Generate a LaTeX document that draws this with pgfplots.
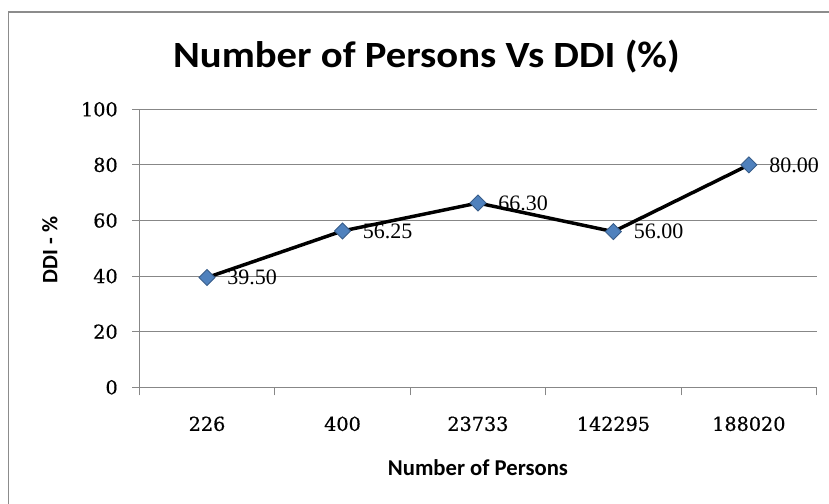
\documentclass[border=0pt]{standalone}
\usepackage{pgfplots}
\pgfplotsset{compat=1.18}
\usepackage{graphicx}
\usepackage{fontspec}
\setmainfont{Liberation Serif}
\newfontfamily\calibri{Carlito}
\newfontfamily\tickserif[FakeBold=0.6]{DejaVu Serif}

\definecolor{gridgray}{HTML}{878787}
\definecolor{framegray}{HTML}{8C8C8C}
\definecolor{markfill}{HTML}{4F81BD}
\definecolor{markedge}{HTML}{385D8A}

\begin{document}
\begin{tikzpicture}
\begin{axis}[
  at={(0,0)}, anchor=south west,
  scale only axis,
  width=508pt, height=208.5pt,
  xmin=-0.5, xmax=4.5,
  ymin=0, ymax=100,
  xtick={0,1,2,3,4},
  xticklabels={226,400,23733,142295,188020},
  minor xtick={-0.5,0.5,1.5,2.5,3.5,4.5},
  ytick={0,20,40,60,80,100},
  major x tick style={draw=none},
  major tick length=5.25pt,
  minor tick length=6pt,
  tick align=outside,
  xtick pos=bottom, ytick pos=left,
  tick style={gridgray, line width=0.75pt},
  axis x line*=bottom, axis y line*=left,
  axis line style={gridgray, line width=0.75pt, -},
  ymajorgrids,
  major grid style={gridgray, line width=0.75pt},
  /pgf/number format/assume math mode=true,
  ticklabel style={font=\tickserif\fontsize{14.4pt}{16pt}\selectfont},
  xticklabel style={anchor=base, inner sep=0pt, yshift=-27.4pt},
  yticklabel style={anchor=east, inner sep=0pt, xshift=-10.75pt},
  xlabel={Number of Persons},
  ylabel={DDI - \%},
  every axis x label/.style={at={([yshift=-66.5pt]rel axis cs:0.5,0)}, anchor=base,
    font=\calibri\bfseries\fontsize{17pt}{20pt}\selectfont},
  every axis y label/.style={at={([xshift=-67pt]rel axis cs:0,0.494)}, rotate=90, anchor=center,
    font=\calibri\bfseries\fontsize{16.5pt}{20pt}\selectfont},
  clip=false,
  nodes near coords={\pgfmathprintnumber[fixed,fixed zerofill,precision=2]{\pgfplotspointmeta}},
  every node near coord/.append style={anchor=west, inner sep=0pt, xshift=15pt, text=black,
    font=\fontsize{16.5pt}{18pt}\selectfont},
]
\addplot[black, line width=2.6pt,
  mark=diamond*, mark size=6pt,
  mark options={xscale=1.333, fill=markfill, draw=markedge, line width=0.6pt}]
  coordinates {(0,39.50) (1,56.25) (2,66.30) (3,56.00) (4,80.00)};
\end{axis}
% chart title
\node[anchor=base] at (215.4pt,239.7pt)
  {\scalebox{1.1}[1]{\calibri\bfseries\fontsize{27.75pt}{32pt}\selectfont Number of Persons Vs DDI (\%)}};
% chart frame
\draw[framegray, line width=1.3pt] (-98.1pt,-200pt) rectangle (700pt,281.5pt);
\pgfresetboundingbox
\useasboundingbox (-104.5pt,-87.5pt) rectangle (517.3pt,290.5pt);
\end{tikzpicture}
\end{document}
